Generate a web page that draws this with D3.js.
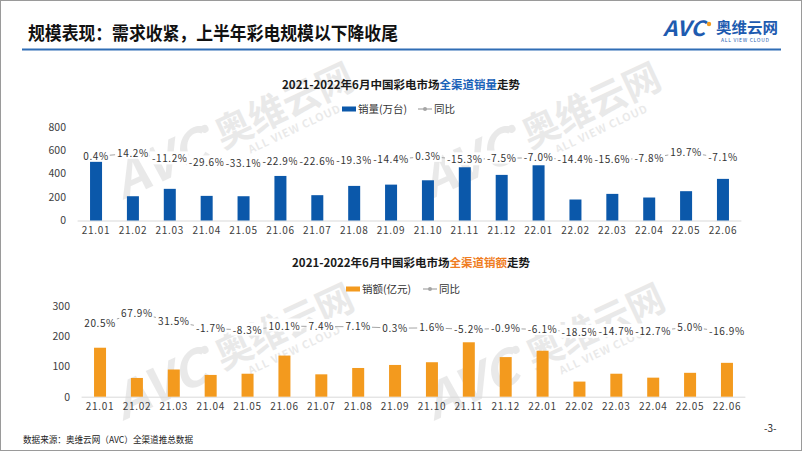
<!DOCTYPE html>
<html><head><meta charset="utf-8">
<script src="https://cdn.jsdelivr.net/npm/d3@7/dist/d3.min.js"></script>
<style>
html,body{margin:0;padding:0;background:#fff;}
svg{display:block;}
text{font-family:"Noto Sans CJK SC","Noto Sans",sans-serif;}
</style></head>
<body>
<svg id="chart" width="802" height="451"></svg>
<script>
const categories = ['21.01','21.02','21.03','21.04','21.05','21.06','21.07','21.08','21.09','21.10','21.11','21.12','22.01','22.02','22.03','22.04','22.05','22.06'];
const volume = [522,207,270,210,207,380,216,295,306,343,454,389,471,179,227,196,250,355];
const volumeYoY = [0.4,14.2,-11.2,-29.6,-33.1,-22.9,-22.6,-19.3,-14.4,0.3,-15.3,-7.5,-7.0,-14.4,-15.6,-7.8,19.7,-7.1];
const revenue = [162,62,90,72,76,136,74,95,105,114,180,131,152,50,76,63,79,112];
const revenueYoY = [20.5,67.9,31.5,-1.7,-8.3,10.1,7.4,7.1,0.3,1.6,-5.2,-0.9,-6.1,-18.5,-14.7,-12.7,5.0,-16.9];
const volumeTicks = [0,200,400,600,800];
const revenueTicks = [0,100,200,300];
const pageTitle = '规模表现：需求收紧，上半年彩电规模以下降收尾';
const sourceNote = '数据来源：奥维云网（AVC）全渠道推总数据';

const svg = d3.select('#chart');
svg.append('rect').attr('x',0.5).attr('y',0.5).attr('width',801).attr('height',450)
  .attr('fill','#fff').attr('stroke','#9a9a9a');

// watermarks (drawn first, behind everything)
function watermark(x,y){
  const g = svg.append('g').attr('transform',`translate(${x},${y}) rotate(-25)`)
    .attr('opacity',0.1).attr('fill','#333');
  g.append('text').attr('x',0).attr('y',0).attr('font-size',48).attr('font-weight','bold')
    .attr('font-style','italic').attr('font-family','"DejaVu Sans",sans-serif')
    .attr('textLength',98).attr('lengthAdjust','spacingAndGlyphs').text('AVC');
  g.append('circle').attr('cx',104).attr('cy',-30).attr('r',4);
  g.append('text').attr('x',112).attr('y',-4).attr('font-size',38).attr('font-weight','bold')
    .attr('textLength',148).attr('lengthAdjust','spacingAndGlyphs').text('奥维云网');
  g.append('text').attr('x',135).attr('y',12).attr('font-size',11).attr('font-weight','bold')
    .attr('font-family','"DejaVu Sans",sans-serif').attr('textLength',100).text('ALL VIEW CLOUD');
}
watermark(123,200);
watermark(430,200);
watermark(123,421);
watermark(434,421);

// header
svg.append('text').attr('x',28).attr('y',40).attr('font-size',18).attr('font-weight','bold')
  .attr('fill','#111').attr('textLength',370).attr('lengthAdjust','spacingAndGlyphs').text(pageTitle);
svg.append('line').attr('x1',22).attr('x2',781).attr('y1',49.5).attr('y2',49.5)
  .attr('stroke','#2f6db5').attr('stroke-width',2);
// logo
svg.append('text').attr('x',663).attr('y',36).attr('font-size',21).attr('font-weight','bold')
  .attr('font-style','italic').attr('fill','#1e5bb0').attr('font-family','"DejaVu Sans",sans-serif')
  .attr('textLength',42).attr('lengthAdjust','spacingAndGlyphs').text('AVC');
svg.append('circle').attr('cx',709).attr('cy',24).attr('r',2.2).attr('fill','#f39b1f');
svg.append('text').attr('x',716).attr('y',33).attr('font-size',15).attr('font-weight','bold')
  .attr('fill','#1e5bb0').attr('textLength',62).attr('lengthAdjust','spacingAndGlyphs').text('奥维云网');
svg.append('text').attr('x',721).attr('y',42).attr('font-size',5).attr('fill','#1e5bb0')
  .attr('font-family','"DejaVu Sans",sans-serif').attr('textLength',48).text('ALL VIEW CLOUD');

function drawChart(cfg){
  const x = d3.scaleBand().domain(categories).range([cfg.x0,cfg.x1]).paddingInner(cfg.pad).paddingOuter(cfg.pad/2);
  const y = d3.scaleLinear().domain([0,cfg.ticks[cfg.ticks.length-1]]).range([cfg.base,cfg.top]);
  const y2 = d3.scaleLinear().domain(cfg.y2dom).range([cfg.base,cfg.top]);
  const g = svg.append('g');
  // title
  const t = g.append('text').attr('x',cfg.titleX).attr('y',cfg.titleY).attr('text-anchor','middle')
    .attr('font-size',11.5).attr('font-weight','bold').attr('fill','#1a1a1a');
  t.append('tspan').text('2021-2022年6月中国彩电市场');
  t.append('tspan').attr('fill',cfg.hiColor).text(cfg.hiText);
  t.append('tspan').text('走势');
  // legend
  const lg = g.append('g').attr('transform',`translate(${cfg.legX},${cfg.legY})`);
  lg.append('rect').attr('x',0).attr('y',-2.5).attr('width',14).attr('height',5).attr('fill',cfg.color);
  lg.append('text').attr('x',16).attr('y',4).attr('font-size',10.5).attr('fill','#333').text(cfg.legName);
  lg.append('line').attr('x1',cfg.legGap).attr('x2',cfg.legGap+14).attr('y1',0).attr('y2',0).attr('stroke','#a5a5a5').attr('stroke-width',1.2);
  lg.append('circle').attr('cx',cfg.legGap+7).attr('cy',0).attr('r',2).attr('fill','#a5a5a5');
  lg.append('text').attr('x',cfg.legGap+16).attr('y',4).attr('font-size',10.5).attr('fill','#333').text('同比');
  // baseline
  g.append('line').attr('x1',cfg.x0).attr('x2',cfg.x1).attr('y1',cfg.base+0.5).attr('y2',cfg.base+0.5)
    .attr('stroke','#d9d9d9').attr('stroke-width',1);
  // y axis
  const ya = g.append('g').attr('transform',`translate(${cfg.yLabX},0)`)
    .call(d3.axisLeft(y).tickValues(cfg.ticks).tickSize(0).tickPadding(0));
  ya.select('.domain').remove();
  ya.selectAll('text').attr('font-size',10.5).attr('fill','#404040')
    .attr('font-family','"Noto Sans CJK SC",sans-serif');
  // x axis
  const xa = g.append('g').attr('transform',`translate(0,${cfg.base})`)
    .call(d3.axisBottom(x).tickSize(0).tickPadding(6));
  xa.select('.domain').remove();
  xa.selectAll('text').attr('font-size',10).attr('fill','#404040').attr('letter-spacing',0.7)
    .attr('font-family','"Noto Sans CJK SC",sans-serif');
  // bars
  const bw = cfg.barW;
  g.selectAll('rect.bar').data(cfg.values).join('rect').attr('class','bar')
    .attr('x',(d,i)=>x(categories[i])+x.bandwidth()/2-bw/2)
    .attr('width',bw)
    .attr('y',d=>y(d)).attr('height',d=>cfg.base-y(d)).attr('fill',cfg.color);
  // yoy line
  const line = d3.line().x((d,i)=>x(categories[i])+x.bandwidth()/2).y(d=>y2(d));
  g.append('path').datum(cfg.yoy).attr('d',line).attr('fill','none').attr('stroke','#a5a5a5').attr('stroke-width',1);
  const lab = g.selectAll('g.lab').data(cfg.yoy).join('g').attr('class','lab')
    .attr('transform',(d,i)=>`translate(${x(categories[i])+x.bandwidth()/2},${y2(d)})`);
  lab.append('rect');
  lab.append('text').attr('text-anchor','middle').attr('dy','0.35em').attr('font-size',10)
    .attr('fill','#333').attr('letter-spacing',0.6)
    .attr('font-family','"Noto Sans CJK SC",sans-serif')
    .text(d=>d.toFixed(1)+'%');
  lab.each(function(){
    const tx = d3.select(this).select('text').node().getBBox();
    d3.select(this).select('rect').attr('x',tx.x-2).attr('y',tx.y+1).attr('width',tx.width+3).attr('height',tx.height-2).attr('fill','#fff');
  });
}

drawChart({values:volume, yoy:volumeYoY, ticks:volumeTicks, color:'#0b58aa',
  hiText:'全渠道销量', hiColor:'#1a62b8', legName:'销量(万台)',
  x0:77.6, x1:741.4, base:220.5, top:126.7, pad:0.64, barW:12, yLabX:66,
  y2dom:[-291,135], titleX:401, titleY:89, legX:342, legY:109, legGap:76});
drawChart({values:revenue, yoy:revenueYoY, ticks:revenueTicks, color:'#f39a1e',
  hiText:'全渠道销额', hiColor:'#ef7d22', legName:'销额(亿元)',
  x0:81.6, x1:745.4, base:396.7, top:306, pad:0.66, barW:12, yLabX:70,
  y2dom:[-311,101], titleX:411, titleY:267, legX:346, legY:289, legGap:77});

svg.append('text').attr('x',23).attr('y',443).attr('font-size',9).attr('fill','#222')
  .attr('textLength',170).attr('lengthAdjust','spacingAndGlyphs').text(sourceNote);
svg.append('text').attr('x',764).attr('y',432).attr('font-size',10).attr('fill','#222').text('-3-');
</script>
</body></html>
